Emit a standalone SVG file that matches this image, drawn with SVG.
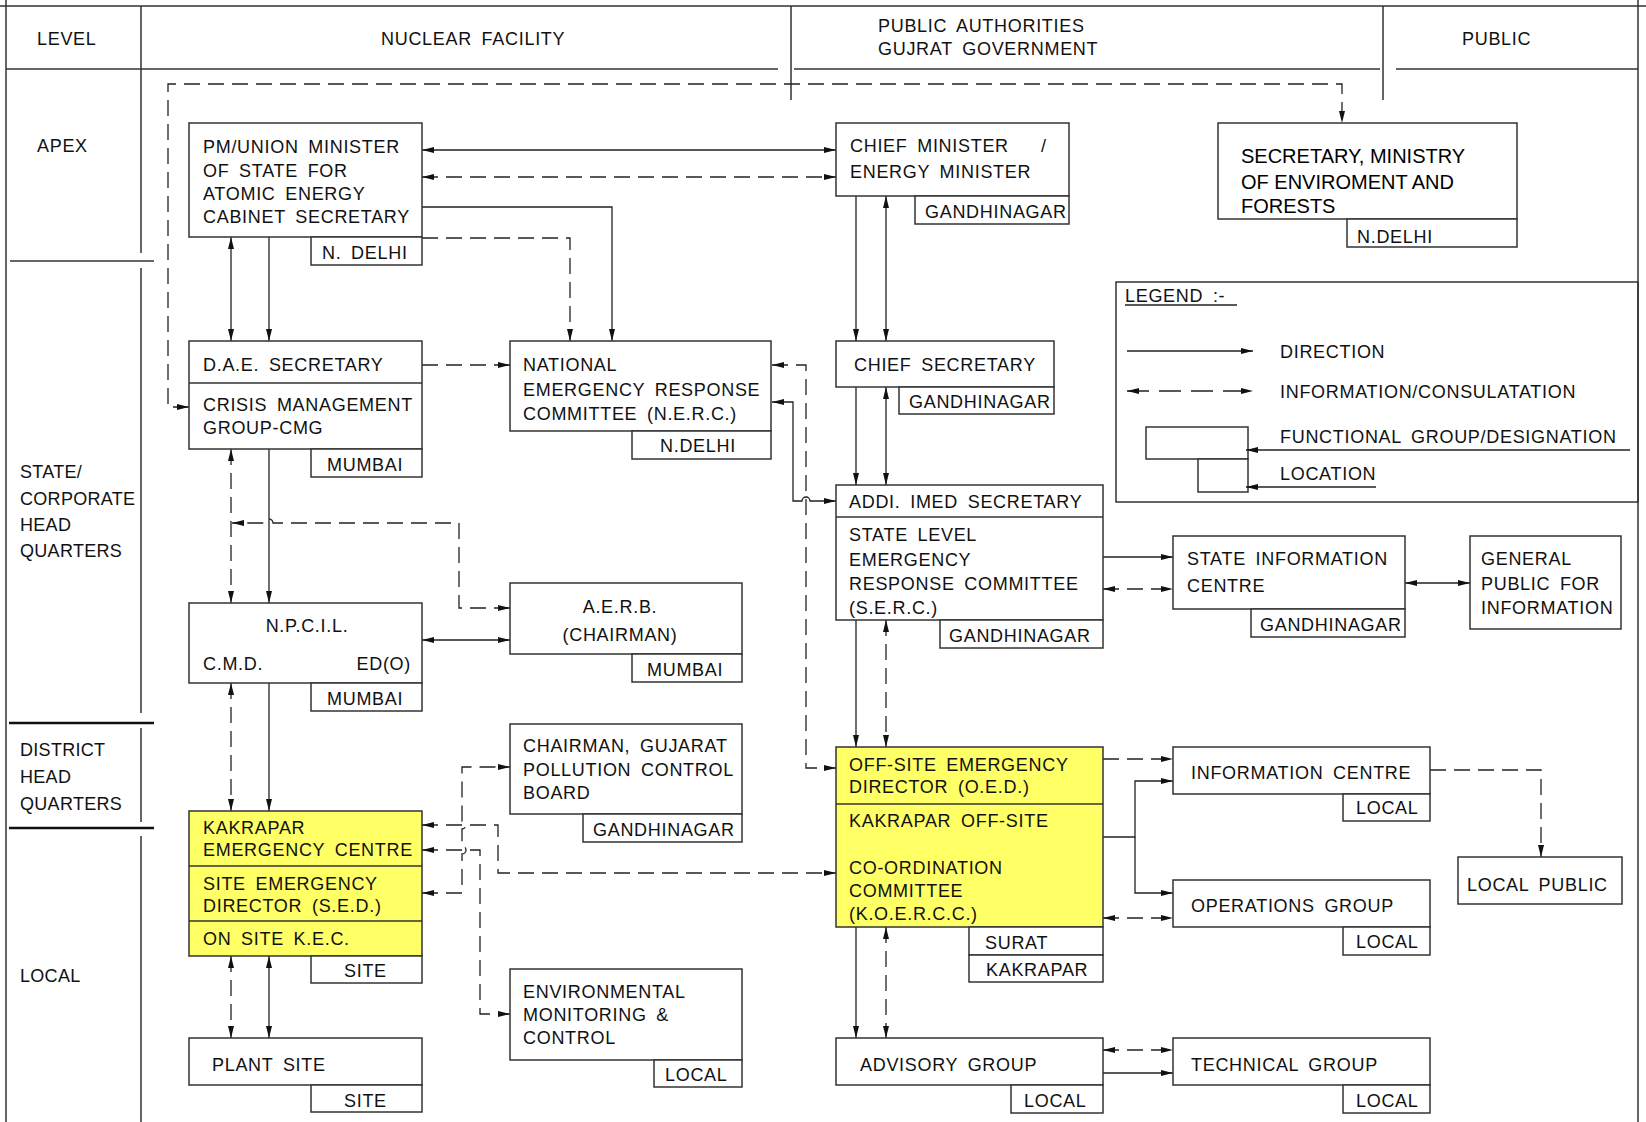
<svg xmlns="http://www.w3.org/2000/svg" width="1646" height="1122" viewBox="0 0 1646 1122">
<style>
.b{fill:#fff;stroke:#333;stroke-width:1.5}
.y{fill:#ffff66;stroke:#333;stroke-width:1.5}
.f{fill:none;stroke:#333;stroke-width:1.5}
.s{fill:none;stroke:#222;stroke-width:1.3}
.d{fill:none;stroke:#222;stroke-width:1.3;stroke-dasharray:16 8}
.t{font-family:"Liberation Sans",Arial,sans-serif;font-size:18px;letter-spacing:0.7px;word-spacing:4px;fill:#111}
.l{letter-spacing:0.3px}
.a{font-family:"Liberation Sans",Arial,sans-serif;font-size:20px;fill:#000}
.m{text-anchor:middle}
.e{text-anchor:end}
</style>
<defs>
<marker id="ar" viewBox="0 0 12 6" refX="12" refY="3" markerWidth="12" markerHeight="6" markerUnits="userSpaceOnUse" orient="auto-start-reverse"><path d="M0,0 L12,3 L0,6 z" fill="#111"/></marker>
</defs>
<rect width="1646" height="1122" fill="#fff"/>
<g id="frame">
<path class="f" d="M0,6 H1646 M6,0 V1122 M1638,0 V1122 M6,69 H778 M794,69 H1380 M1396,69 H1638 M141,6 V253 M141,268 V713 M141,728 V822 M141,836 V1122 M791,6 V100 M1383,6 V100 M10,261 H154"/>
<path fill="none" stroke="#111" stroke-width="2.6" d="M9,723 H154 M9,828 H154"/>
<text class="t" x="37" y="45">LEVEL</text>
<text class="t" x="381" y="45">NUCLEAR FACILITY</text>
<text class="t" x="878" y="32">PUBLIC AUTHORITIES</text>
<text class="t" x="878" y="55">GUJRAT GOVERNMENT</text>
<text class="t" x="1462" y="45">PUBLIC</text>
<text class="t" x="37" y="152">APEX</text>
<text class="t l" x="20" y="478">STATE/<tspan x="20" y="505">CORPORATE</tspan><tspan x="20" y="531">HEAD</tspan><tspan x="20" y="557">QUARTERS</tspan></text>
<text class="t l" x="20" y="756">DISTRICT<tspan x="20" y="783">HEAD</tspan><tspan x="20" y="810">QUARTERS</tspan></text>
<text class="t l" x="20" y="982">LOCAL</text>
</g>
<g id="legend">
<rect class="f" x="1116" y="282" width="522" height="220"/>
<text class="t" x="1125" y="302">LEGEND :-</text>
<path class="s" d="M1125,305 H1237"/>
<path class="s" marker-end="url(#ar)" d="M1127,351 H1253"/>
<text class="t" x="1280" y="358">DIRECTION</text>
<path class="d" marker-start="url(#ar)" marker-end="url(#ar)" d="M1127,391 H1253" style="stroke-dasharray:22 10"/>
<text class="t" x="1280" y="398">INFORMATION/CONSULATATION</text>
<rect class="b" x="1146" y="427" width="102" height="32"/>
<rect class="b" x="1198" y="459" width="50" height="33"/>
<text class="t" x="1280" y="443">FUNCTIONAL GROUP/DESIGNATION</text>
<path class="s" marker-end="url(#ar)" d="M1630,450 H1246"/>
<text class="t" x="1280" y="480">LOCATION</text>
<path class="s" marker-end="url(#ar)" d="M1376,487 H1246"/>
</g>
<g id="connectors">
<path class="s" marker-start="url(#ar)" marker-end="url(#ar)" d="M422,150 H836"/>
<path class="d" marker-start="url(#ar)" marker-end="url(#ar)" d="M422,177 H836"/>
<path class="s" marker-end="url(#ar)" d="M422,207 H612 V341"/>
<path class="d" marker-end="url(#ar)" d="M422,238 H570 V341"/>
<path class="s" marker-start="url(#ar)" marker-end="url(#ar)" d="M231,237 V341"/>
<path class="s" marker-end="url(#ar)" d="M269,237 V341"/>
<path class="d" marker-start="url(#ar)" marker-end="url(#ar)" d="M189,407 H168 V84 H1342 V123"/>
<path class="d" marker-end="url(#ar)" d="M422,365 H510"/>
<path class="d" marker-start="url(#ar)" marker-end="url(#ar)" d="M772,365 H806 V768 H836"/>
<path class="s" marker-start="url(#ar)" marker-end="url(#ar)" d="M772,402 H793 V501 H802 A4,4 0 0 1 810,501 H836"/>
<path class="d" marker-start="url(#ar)" marker-end="url(#ar)" d="M231,449 V603"/>
<path class="s" marker-end="url(#ar)" d="M269,449 V603"/>
<path class="d" marker-start="url(#ar)" marker-end="url(#ar)" d="M510,608 H459 V523 H273 A4,4 0 0 0 265,523 H232"/>
<path class="s" marker-start="url(#ar)" marker-end="url(#ar)" d="M422,640 H510"/>
<path class="d" marker-start="url(#ar)" marker-end="url(#ar)" d="M231,683 V811"/>
<path class="s" marker-end="url(#ar)" d="M269,683 V811"/>
<path class="d" marker-start="url(#ar)" marker-end="url(#ar)" d="M231,956 V1038"/>
<path class="s" marker-start="url(#ar)" marker-end="url(#ar)" d="M269,956 V1038"/>
<path class="d" marker-start="url(#ar)" marker-end="url(#ar)" d="M422,893 H462 V854 A4,4 0 0 0 462,846 V829 A4,4 0 0 0 462,821 V767 H510"/>
<path class="d" marker-start="url(#ar)" marker-end="url(#ar)" d="M422,825 H498 V873 H836"/>
<path class="d" marker-start="url(#ar)" marker-end="url(#ar)" d="M422,850 H480 V1014 H510"/>
<path class="s" marker-end="url(#ar)" d="M856,196 V341"/>
<path class="s" marker-start="url(#ar)" marker-end="url(#ar)" d="M886,196 V341"/>
<path class="s" marker-end="url(#ar)" d="M856,387 V485"/>
<path class="s" marker-start="url(#ar)" marker-end="url(#ar)" d="M886,387 V485"/>
<path class="s" marker-end="url(#ar)" d="M1103,557 H1173"/>
<path class="d" marker-start="url(#ar)" marker-end="url(#ar)" d="M1103,589 H1173"/>
<path class="s" marker-start="url(#ar)" marker-end="url(#ar)" d="M1405,583 H1470"/>
<path class="s" marker-end="url(#ar)" d="M856,620 V747"/>
<path class="d" marker-start="url(#ar)" marker-end="url(#ar)" d="M886,620 V747"/>
<path class="d" marker-end="url(#ar)" d="M1103,759 H1173"/>
<path class="s" marker-end="url(#ar)" d="M1103,837 H1135 V781 H1173"/>
<path class="s" marker-end="url(#ar)" d="M1135,837 V893 H1173"/>
<path class="d" marker-start="url(#ar)" marker-end="url(#ar)" d="M1103,918 H1173"/>
<path class="d" marker-end="url(#ar)" d="M1430,770 H1541 V857"/>
<path class="s" marker-end="url(#ar)" d="M856,927 V1038"/>
<path class="d" marker-start="url(#ar)" marker-end="url(#ar)" d="M886,927 V1038"/>
<path class="d" marker-start="url(#ar)" marker-end="url(#ar)" d="M1103,1050 H1173"/>
<path class="s" marker-end="url(#ar)" d="M1103,1073 H1173"/>
</g>
<g id="pm">
<rect class="b" x="189" y="123" width="233" height="114"/>
<rect class="b" x="311" y="237" width="111" height="28"/>
<text class="t" x="203" y="153">PM/UNION MINISTER<tspan x="203" y="177">OF STATE FOR</tspan><tspan x="203" y="200">ATOMIC ENERGY</tspan><tspan x="203" y="223">CABINET SECRETARY</tspan></text>
<text class="t" x="322" y="259">N. DELHI</text>
</g>
<g id="cm">
<rect class="b" x="836" y="123" width="233" height="73"/>
<rect class="b" x="915" y="196" width="154" height="28"/>
<text class="t" x="850" y="152">CHIEF MINISTER <tspan x="1041">/</tspan></text>
<text class="t" x="850" y="178">ENERGY MINISTER</text>
<text class="t" x="925" y="218">GANDHINAGAR</text>
</g>
<g id="secretary-moef">
<rect class="b" x="1218" y="123" width="299" height="96"/>
<rect class="b" x="1347" y="219" width="170" height="28"/>
<text class="a" x="1241" y="163">SECRETARY, MINISTRY<tspan x="1241" y="189">OF ENVIROMENT AND</tspan><tspan x="1241" y="213">FORESTS</tspan></text>
<text class="t" x="1357" y="243">N.DELHI</text>
</g>
<g id="dae">
<rect class="b" x="189" y="341" width="233" height="108"/>
<path class="f" d="M189,383 H422"/>
<rect class="b" x="311" y="449" width="111" height="28"/>
<text class="t" x="203" y="371">D.A.E. SECRETARY</text>
<text class="t" x="203" y="411">CRISIS MANAGEMENT<tspan x="203" y="434">GROUP-CMG</tspan></text>
<text class="t" x="327" y="471">MUMBAI</text>
</g>
<g id="nerc">
<rect class="b" x="510" y="341" width="261" height="90"/>
<rect class="b" x="632" y="431" width="139" height="28"/>
<text class="t" x="523" y="371">NATIONAL<tspan x="523" y="396">EMERGENCY RESPONSE</tspan><tspan x="523" y="420">COMMITTEE (N.E.R.C.)</tspan></text>
<text class="t" x="660" y="452">N.DELHI</text>
</g>
<g id="chief-secretary">
<rect class="b" x="836" y="341" width="218" height="46"/>
<rect class="b" x="899" y="387" width="155" height="27"/>
<text class="t" x="854" y="371">CHIEF SECRETARY</text>
<text class="t" x="909" y="408">GANDHINAGAR</text>
</g>
<g id="serc">
<rect class="b" x="836" y="485" width="267" height="135"/>
<path class="f" d="M836,517 H1103"/>
<rect class="b" x="940" y="620" width="163" height="28"/>
<text class="t" x="849" y="508">ADDI. IMED SECRETARY</text>
<text class="t" x="849" y="541">STATE LEVEL<tspan x="849" y="566">EMERGENCY</tspan><tspan x="849" y="590">RESPONSE COMMITTEE</tspan><tspan x="849" y="614">(S.E.R.C.)</tspan></text>
<text class="t" x="949" y="642">GANDHINAGAR</text>
</g>
<g id="state-info-centre">
<rect class="b" x="1173" y="536" width="232" height="73"/>
<rect class="b" x="1251" y="609" width="154" height="28"/>
<text class="t" x="1187" y="565">STATE INFORMATION<tspan x="1187" y="592">CENTRE</tspan></text>
<text class="t" x="1260" y="631">GANDHINAGAR</text>
</g>
<g id="general-public">
<rect class="b" x="1470" y="536" width="151" height="93"/>
<text class="t" x="1481" y="565">GENERAL<tspan x="1481" y="590">PUBLIC FOR</tspan><tspan x="1481" y="614">INFORMATION</tspan></text>
</g>
<g id="aerb">
<rect class="b" x="510" y="583" width="232" height="71"/>
<rect class="b" x="632" y="654" width="110" height="28"/>
<text class="t m" x="620" y="613">A.E.R.B.</text>
<text class="t m" x="620" y="641">(CHAIRMAN)</text>
<text class="t" x="647" y="676">MUMBAI</text>
</g>
<g id="npcil">
<rect class="b" x="189" y="603" width="233" height="80"/>
<rect class="b" x="311" y="683" width="111" height="28"/>
<text class="t m" x="307" y="632">N.P.C.I.L.</text>
<text class="t" x="203" y="670">C.M.D.</text>
<text class="t e" x="411" y="670">ED(O)</text>
<text class="t" x="327" y="705">MUMBAI</text>
</g>
<g id="gpcb">
<rect class="b" x="510" y="724" width="232" height="90"/>
<rect class="b" x="583" y="814" width="159" height="28"/>
<text class="t" x="523" y="752">CHAIRMAN, GUJARAT<tspan x="523" y="776">POLLUTION CONTROL</tspan><tspan x="523" y="799">BOARD</tspan></text>
<text class="t" x="593" y="836">GANDHINAGAR</text>
</g>
<g id="kec">
<rect class="y" x="189" y="811" width="233" height="145"/>
<path class="f" d="M189,866 H422 M189,921 H422"/>
<rect class="b" x="311" y="956" width="111" height="27"/>
<text class="t" x="203" y="834">KAKRAPAR<tspan x="203" y="856">EMERGENCY CENTRE</tspan></text>
<text class="t" x="203" y="890">SITE EMERGENCY<tspan x="203" y="912">DIRECTOR (S.E.D.)</tspan></text>
<text class="t" x="203" y="945">ON SITE K.E.C.</text>
<text class="t" x="344" y="977">SITE</text>
</g>
<g id="oed">
<rect class="y" x="836" y="747" width="267" height="180"/>
<path class="f" d="M836,804 H1103"/>
<rect class="b" x="969" y="927" width="134" height="28"/>
<rect class="b" x="969" y="955" width="134" height="27"/>
<text class="t" x="849" y="771">OFF-SITE EMERGENCY<tspan x="849" y="793">DIRECTOR (O.E.D.)</tspan></text>
<text class="t" x="849" y="827">KAKRAPAR OFF-SITE<tspan x="849" y="874">CO-ORDINATION</tspan><tspan x="849" y="897">COMMITTEE</tspan><tspan x="849" y="920">(K.O.E.R.C.C.)</tspan></text>
<text class="t" x="985" y="949">SURAT</text>
<text class="t" x="986" y="976">KAKRAPAR</text>
</g>
<g id="information-centre">
<rect class="b" x="1173" y="747" width="257" height="47"/>
<rect class="b" x="1343" y="794" width="87" height="27"/>
<text class="t" x="1191" y="779">INFORMATION CENTRE</text>
<text class="t" x="1356" y="814">LOCAL</text>
</g>
<g id="local-public">
<rect class="b" x="1458" y="857" width="164" height="47"/>
<text class="t" x="1467" y="891">LOCAL PUBLIC</text>
</g>
<g id="operations-group">
<rect class="b" x="1173" y="880" width="257" height="47"/>
<rect class="b" x="1343" y="927" width="87" height="28"/>
<text class="t" x="1191" y="912">OPERATIONS GROUP</text>
<text class="t" x="1356" y="948">LOCAL</text>
</g>
<g id="env-monitoring">
<rect class="b" x="510" y="969" width="232" height="91"/>
<rect class="b" x="654" y="1060" width="88" height="27"/>
<text class="t" x="523" y="998">ENVIRONMENTAL<tspan x="523" y="1021">MONITORING &amp;</tspan><tspan x="523" y="1044">CONTROL</tspan></text>
<text class="t" x="665" y="1081">LOCAL</text>
</g>
<g id="plant-site">
<rect class="b" x="189" y="1038" width="233" height="47"/>
<rect class="b" x="311" y="1085" width="111" height="27"/>
<text class="t" x="212" y="1071">PLANT SITE</text>
<text class="t" x="344" y="1107">SITE</text>
</g>
<g id="advisory-group">
<rect class="b" x="836" y="1038" width="267" height="47"/>
<rect class="b" x="1011" y="1085" width="92" height="28"/>
<text class="t" x="860" y="1071">ADVISORY GROUP</text>
<text class="t" x="1024" y="1107">LOCAL</text>
</g>
<g id="technical-group">
<rect class="b" x="1173" y="1038" width="257" height="47"/>
<rect class="b" x="1343" y="1085" width="87" height="28"/>
<text class="t" x="1191" y="1071">TECHNICAL GROUP</text>
<text class="t" x="1356" y="1107">LOCAL</text>
</g>
</svg>
